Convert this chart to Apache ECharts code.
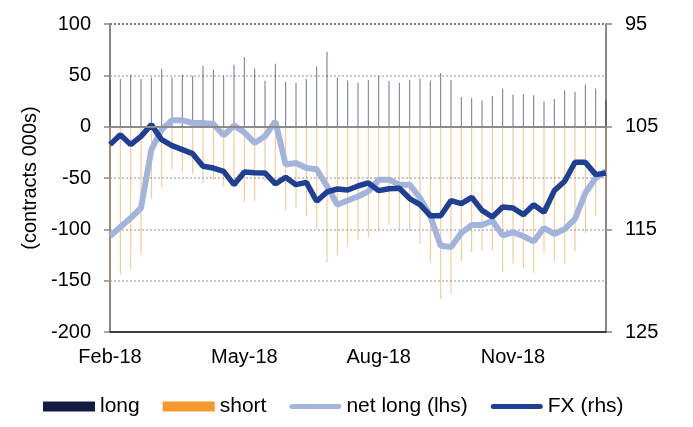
<!DOCTYPE html>
<html>
<head>
<meta charset="utf-8">
<script src="https://cdn.jsdelivr.net/npm/echarts@6/dist/echarts.min.js"></script>
<style>html,body{margin:0;padding:0;background:#fff;}#c{width:693px;height:427px;}</style>
</head>
<body>
<div id="c"></div>
<script>
var categories = ['06-Feb-18','13-Feb-18','20-Feb-18','27-Feb-18','06-Mar-18','13-Mar-18','20-Mar-18','27-Mar-18',
  '03-Apr-18','10-Apr-18','17-Apr-18','24-Apr-18','01-May-18','08-May-18','15-May-18','22-May-18','29-May-18',
  '05-Jun-18','12-Jun-18','19-Jun-18','26-Jun-18','03-Jul-18','10-Jul-18','17-Jul-18','24-Jul-18','31-Jul-18',
  '07-Aug-18','14-Aug-18','21-Aug-18','28-Aug-18','04-Sep-18','11-Sep-18','18-Sep-18','25-Sep-18',
  '02-Oct-18','09-Oct-18','16-Oct-18','23-Oct-18','30-Oct-18','06-Nov-18','13-Nov-18','20-Nov-18','27-Nov-18',
  '04-Dec-18','11-Dec-18','18-Dec-18','25-Dec-18','01-Jan-19','08-Jan-19'];

var longVals = [45, 46.5, 50.6, 46.5, 48, 56.5, 48, 50.6, 49.7, 59.4, 55.5, 49.7, 60.4, 67.9, 56.5, 44.8, 61.4,
  43.8, 42.5, 46.5, 58.7, 73, 48, 44.8, 42.8, 45.5, 49.4, 44.5, 42.8, 45.8, 46.8, 44.8, 52.3, 45.8,
  28.9, 27.9, 25.6, 29.9, 37, 31.2, 31.8, 30.5, 24.4, 27, 35.4, 34.1, 40.9, 37, 26.3];

var shortVals = [-152, -144, -139, -125.3, -70, -59.1, -41.9, -45, -46, -54.9, -52.3, -58.1, -59.4, -73.7, -72.7, -53.2, -56,
  -81.5, -78.6, -87.3, -99.7, -132, -124.7, -115.9, -110, -107.8, -101, -95.5, -100.3, -101.3, -114, -132, -167.8, -163,
  -131, -122.4, -120.8, -120.8, -141.9, -133.4, -138, -142.5, -123, -130.5, -133.4, -121.4, -103.5, -86.7, -70];

var netLong = [-106.8, -97.7, -89, -79.2, -22.4, -2.9, 6.2, 6.2, 3.6, 3.6, 2.6, -8.4, 1, -5.5, -15.9, -9.4, 5.2,
  -37, -35.4, -40.3, -41.5, -58.1, -76, -72, -68, -63, -51.6, -51.6, -56.5, -56.5, -69.5, -87.3, -115.9, -117.2,
  -103.5, -95.8, -95.8, -91.6, -105.9, -102.9, -106.8, -111.7, -98.7, -104.5, -99.7, -89.9, -64.6, -50, -43.5];

var fx = [106.75, 105.78, 106.75, 105.94, 104.8, 106.27, 106.85, 107.24, 107.63, 108.86, 109.03, 109.35, 110.65,
  109.41, 109.48, 109.51, 110.58, 109.93, 110.65, 110.42, 112.27, 111.36, 111.07, 111.17, 110.78, 110.48, 111.23,
  111.04, 111.0, 112.0, 112.6, 113.67, 113.67, 112.2, 112.5, 111.88, 113.15, 113.8, 112.82, 112.92, 113.57, 112.6,
  113.34, 111.23, 110.32, 108.47, 108.47, 109.67, 109.51];

var leftTicks = {min: -200, max: 100, interval: 50};
var rightTicks = {min: 95, max: 125, interval: 10};

var FONT = '"Liberation Sans", Arial, sans-serif';
var C_LONG = '#121b42', C_SHORT = '#f7982f', C_NET = '#a3b4dc', C_FX = '#1f3f93';
var LINE_ICON = 'path://M5,0 H99 A5,5 0 0 1 99,10 H5 A5,5 0 0 1 5,0 Z';

var chart = echarts.init(document.getElementById('c'), null, {renderer: 'canvas'});
chart.setOption({
  animation: false,
  backgroundColor: '#fff',
  textStyle: {fontFamily: FONT},
  grid: {left: 110, right: 87, top: 24, bottom: 95, containLabel: false},
  legend: {
    left: 38, top: 391, itemWidth: 52, itemHeight: 10, itemGap: 23, symbolKeepAspect: true,
    textStyle: {fontSize: 21, color: '#000', fontFamily: FONT},
    data: [
      {name: 'long', icon: 'rect', itemStyle: {color: C_LONG, opacity: 1}},
      {name: 'short', icon: 'rect', itemStyle: {color: C_SHORT, opacity: 1}},
      {name: 'net long (lhs)', icon: LINE_ICON, itemStyle: {color: C_NET, opacity: 1}},
      {name: 'FX (rhs)', icon: LINE_ICON, itemStyle: {color: C_FX, opacity: 1}}
    ]
  },
  xAxis: {
    type: 'category', data: categories, boundaryGap: false,
    axisLine: {onZero: false, lineStyle: {color: '#000', width: 1.5}},
    axisTick: {show: false},
    splitLine: {show: false},
    axisLabel: {
      interval: 12, fontSize: 20, color: '#000', margin: 15, fontFamily: FONT,
      formatter: function (v) { return v.slice(3); }
    }
  },
  yAxis: [
    {
      type: 'value', min: leftTicks.min, max: leftTicks.max, interval: leftTicks.interval,
      name: '(contracts 000s)', nameLocation: 'middle', nameRotate: 90, nameGap: 62,
      nameTextStyle: {fontSize: 20, color: '#000', fontFamily: FONT},
      axisLine: {show: true, lineStyle: {color: '#888', width: 2}},
      axisTick: {show: true, length: 6, lineStyle: {color: '#888', width: 1.5}},
      axisLabel: {fontSize: 20, color: '#000', margin: 19, fontFamily: FONT},
      splitLine: {show: true, lineStyle: {type: [2, 2], width: 2,
        color: ['rgba(0,0,0,0)', '#c8c8c8', '#c8c8c8', '#c8c8c8', 'rgba(0,0,0,0)', '#c8c8c8', '#7a7a7a']}}
    },
    {
      type: 'value', position: 'right', inverse: true,
      min: rightTicks.min, max: rightTicks.max, interval: rightTicks.interval,
      axisLine: {show: true, lineStyle: {color: '#888', width: 2}},
      axisTick: {show: true, length: 6, lineStyle: {color: '#888', width: 1.5}},
      axisLabel: {fontSize: 20, color: '#000', margin: 19, fontFamily: FONT},
      splitLine: {show: false}
    }
  ],
  series: [
    {
      name: 'long', type: 'bar', data: longVals, barWidth: 1, barGap: '-100%',
      itemStyle: {color: C_LONG, opacity: 0.6},
      markLine: {
        silent: true, symbol: ['none', 'none'], label: {show: false},
        lineStyle: {color: '#8a8a8a', type: 'solid', width: 2},
        data: [{yAxis: 0}]
      }
    },
    {
      name: 'short', type: 'bar', data: shortVals, barWidth: 1, barGap: '-100%',
      itemStyle: {color: C_SHORT, opacity: 0.6}
    },
    {
      name: 'net long (lhs)', type: 'line', data: netLong, yAxisIndex: 0,
      symbol: 'none', showSymbol: false,
      lineStyle: {color: C_NET, width: 6}, itemStyle: {color: C_NET}
    },
    {
      name: 'FX (rhs)', type: 'line', data: fx, yAxisIndex: 1,
      symbol: 'none', showSymbol: false,
      lineStyle: {color: C_FX, width: 5.5}, itemStyle: {color: C_FX}
    }
  ]
});
</script>
</body>
</html>
